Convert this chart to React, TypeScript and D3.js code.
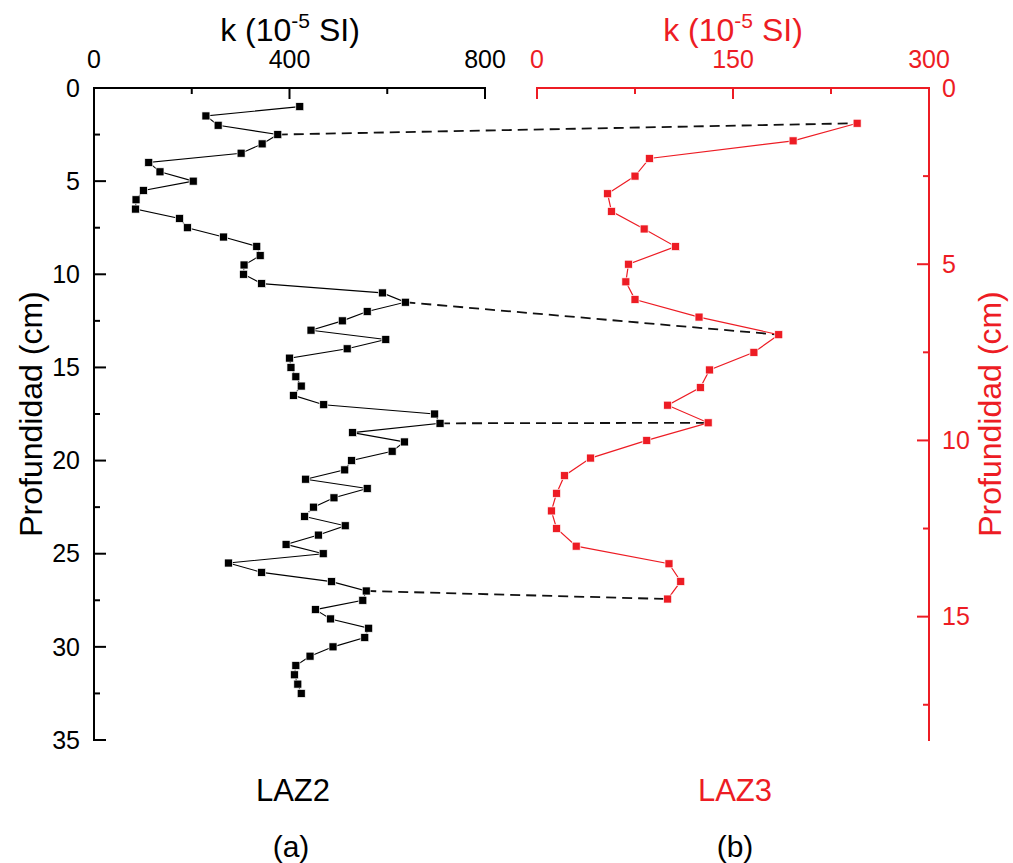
import React from "react";
import * as d3 from "d3";

// LAZ2 (a): depth (cm) and k (10^-5 SI)
const laz2Depth = [
  1.0, 1.5, 2.0, 2.5, 3.0, 3.5, 4.0, 4.5, 5.0, 5.5, 6.0, 6.5, 7.0, 7.5, 8.0, 8.5,
  9.0, 9.5, 10.0, 10.5, 11.0, 11.5, 12.0, 12.5, 13.0, 13.5, 14.0, 14.5, 15.0, 15.5,
  16.0, 16.5, 17.0, 17.5, 18.0, 18.5, 19.0, 19.5, 20.0, 20.5, 21.0, 21.5, 22.0, 22.5,
  23.0, 23.5, 24.0, 24.5, 25.0, 25.5, 26.0, 26.5, 27.0, 27.5, 28.0, 28.5, 29.0, 29.5,
  30.0, 30.5, 31.0, 31.5, 32.0, 32.5,
];
const laz2K = [
  421, 229, 254, 376, 344, 301, 112, 135, 203, 101, 86, 85, 175, 191, 265, 333,
  340, 307, 306, 343, 590, 637, 559, 508, 444, 597, 518, 400, 403, 413,
  424, 408, 470, 697, 708, 529, 635, 610, 527, 513, 433, 559, 491, 449,
  431, 514, 459, 393, 469, 275, 343, 486, 557, 550, 453, 484, 562, 554,
  489, 442, 413, 410, 417, 424,
];

// LAZ3 (b)
const laz3Depth = [
  1.0, 1.5, 2.0, 2.5, 3.0, 3.5, 4.0, 4.5, 5.0, 5.5, 6.0, 6.5, 7.0, 7.5,
  8.0, 8.5, 9.0, 9.5, 10.0, 10.5, 11.0, 11.5, 12.0, 12.5, 13.0, 13.5, 14.0, 14.5,
];
const laz3K = [
  245, 196, 86, 75, 54, 57, 82, 106, 70, 68, 75, 124, 185, 166,
  132, 125, 100, 131, 84, 41, 21, 15, 11, 15, 30, 101, 110, 100,
];

// correlation connectors: [LAZ2 depth, LAZ3 depth]
const connectors: [number, number][] = [
  [2.5, 1.0],
  [11.5, 7.0],
  [18.0, 9.5],
  [27.0, 14.5],
];

const leftMajorX = [0, 400, 800];
const leftMinorX = [200, 600];
const rightMajorX = [0, 150, 300];
const rightMinorX = [75, 225];
const leftMajorY = [0, 5, 10, 15, 20, 25, 30, 35];
const leftMinorY = [2.5, 7.5, 12.5, 17.5, 22.5, 27.5, 32.5];
const rightMajorY = [0, 5, 10, 15];
const rightMinorY = [2.5, 7.5, 12.5, 17.5];

const RED = "#ed1c24";
const FONT = "'Liberation Sans', Arial, sans-serif";

export default function App() {
  const top = 88;
  const bottom = 740;
  const xL = d3.scaleLinear().domain([0, 800]).range([94, 485]);
  const yL = d3.scaleLinear().domain([0, 35]).range([top, bottom]);
  const xR = d3.scaleLinear().domain([0, 300]).range([537, 929]);
  const yR = d3.scaleLinear().domain([0, 18.5]).range([top, bottom]);

  const leftPts = laz2Depth.map((d, i) => [xL(laz2K[i]), yL(d)] as [number, number]);
  const rightPts = laz3Depth.map((d, i) => [xR(laz3K[i]), yR(d)] as [number, number]);
  const line = d3.line();

  const ms = 8;
  const tickFs = 25;
  const axW = 2;

  return (
    <svg
      width={1013}
      height={863}
      style={{ position: "absolute", left: 0, top: 0, background: "#fff" }}
      fontFamily={FONT}
    >
      {/* Titles */}
      <text x={290} y={41} fontSize={32} textAnchor="middle" fill="#000">
        k (10<tspan dy={-13} fontSize={21}>-5</tspan>
        <tspan dy={13}> SI)</tspan>
      </text>
      <text x={733} y={41} fontSize={32} textAnchor="middle" fill={RED}>
        k (10<tspan dy={-13} fontSize={21}>-5</tspan>
        <tspan dy={13}> SI)</tspan>
      </text>

      {/* Left top axis */}
      <line x1={xL(0) - 1} x2={xL(800) + 1} y1={top} y2={top} stroke="#000" strokeWidth={axW} />
      {leftMajorX.map((v) => (
        <g key={"lmx" + v}>
          <line x1={xL(v)} x2={xL(v)} y1={top} y2={top + 11} stroke="#000" strokeWidth={axW} />
          <text x={xL(v)} y={68} fontSize={tickFs} textAnchor="middle">{v}</text>
        </g>
      ))}
      {leftMinorX.map((v) => (
        <line key={"lnx" + v} x1={xL(v)} x2={xL(v)} y1={top} y2={top + 6} stroke="#000" strokeWidth={axW} />
      ))}

      {/* Left y axis */}
      <line x1={xL(0)} x2={xL(0)} y1={top - 1} y2={bottom + 1} stroke="#000" strokeWidth={axW} />
      {leftMajorY.map((v) => (
        <g key={"lmy" + v}>
          <line x1={xL(0)} x2={xL(0) + 12} y1={yL(v)} y2={yL(v)} stroke="#000" strokeWidth={axW} />
          <text x={80} y={yL(v)} dy="0.35em" fontSize={tickFs} textAnchor="end">{v}</text>
        </g>
      ))}
      {leftMinorY.map((v) => (
        <line key={"lny" + v} x1={xL(0)} x2={xL(0) + 6} y1={yL(v)} y2={yL(v)} stroke="#000" strokeWidth={axW} />
      ))}
      <text
        transform={`translate(42, ${(top + bottom) / 2}) rotate(-90)`}
        fontSize={32}
        textAnchor="middle"
      >
        Profundidad (cm)
      </text>

      {/* Right top axis */}
      <line x1={xR(0) - 1} x2={xR(300) + 1} y1={top} y2={top} stroke={RED} strokeWidth={axW} />
      {rightMajorX.map((v) => (
        <g key={"rmx" + v}>
          <line x1={xR(v)} x2={xR(v)} y1={top} y2={top + 11} stroke={RED} strokeWidth={axW} />
          <text x={xR(v)} y={68} fontSize={tickFs} textAnchor="middle" fill={RED}>{v}</text>
        </g>
      ))}
      {rightMinorX.map((v) => (
        <line key={"rnx" + v} x1={xR(v)} x2={xR(v)} y1={top} y2={top + 6} stroke={RED} strokeWidth={axW} />
      ))}

      {/* Right y axis */}
      <line x1={xR(300)} x2={xR(300)} y1={top - 1} y2={bottom + 1} stroke={RED} strokeWidth={axW} />
      {rightMajorY.map((v) => (
        <g key={"rmy" + v}>
          <line x1={xR(300) - 12} x2={xR(300)} y1={yR(v)} y2={yR(v)} stroke={RED} strokeWidth={axW} />
          <text x={942} y={yR(v)} dy="0.35em" fontSize={tickFs} textAnchor="start" fill={RED}>{v}</text>
        </g>
      ))}
      {rightMinorY.map((v) => (
        <line key={"rny" + v} x1={xR(300) - 6} x2={xR(300)} y1={yR(v)} y2={yR(v)} stroke={RED} strokeWidth={axW} />
      ))}
      <text
        transform={`translate(1001, ${(top + bottom) / 2}) rotate(-90)`}
        fontSize={32}
        textAnchor="middle"
        fill={RED}
      >
        Profundidad (cm)
      </text>

      {/* Connectors */}
      {connectors.map(([dl, dr], i) => {
        const li = laz2Depth.indexOf(dl);
        const ri = laz3Depth.indexOf(dr);
        return (
          <line
            key={"c" + i}
            x1={xL(laz2K[li])}
            y1={yL(dl)}
            x2={xR(laz3K[ri])}
            y2={yR(dr)}
            stroke="#111"
            strokeWidth={1.8}
            strokeDasharray="10 6"
          />
        );
      })}

      {/* LAZ2 series */}
      <path d={line(leftPts) || ""} fill="none" stroke="#000" strokeWidth={1.1} />
      {leftPts.map(([x, y], i) => (
        <rect key={"lp" + i} x={x - ms / 2} y={y - ms / 2} width={ms} height={ms} fill="#000" stroke="#fff" strokeWidth={0.7} />
      ))}

      {/* LAZ3 series */}
      <path d={line(rightPts) || ""} fill="none" stroke={RED} strokeWidth={1.2} />
      {rightPts.map(([x, y], i) => (
        <rect key={"rp" + i} x={x - ms / 2} y={y - ms / 2} width={ms} height={ms} fill={RED} stroke="#fff" strokeWidth={0.7} />
      ))}

      {/* Labels */}
      <text x={293} y={801} fontSize={31} textAnchor="middle">LAZ2</text>
      <text x={735} y={801} fontSize={31} textAnchor="middle" fill={RED}>LAZ3</text>
      <text x={291} y={857} fontSize={30} textAnchor="middle">(a)</text>
      <text x={735} y={857} fontSize={30} textAnchor="middle">(b)</text>
    </svg>
  );
}
